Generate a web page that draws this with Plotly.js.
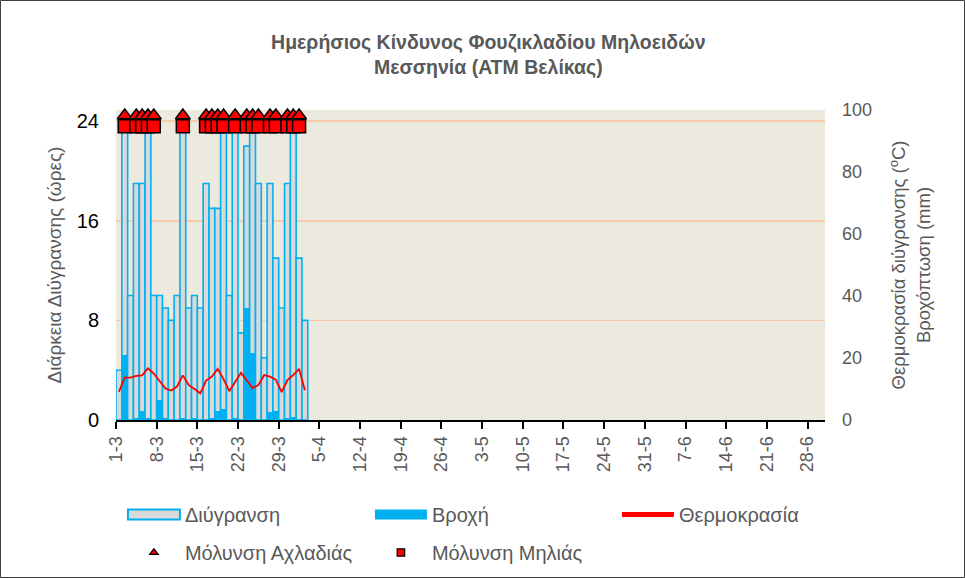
<!DOCTYPE html>
<html>
<head>
<meta charset="utf-8">
<script src="https://cdn.plot.ly/plotly-3.0.1.min.js"></script>
<style>html,body{margin:0;padding:0;background:#fff;}#chart{width:965px;height:578px;}</style>
</head>
<body>
<div id="chart"></div>
<script>
// ---- data ----
const dates = ['2023-03-01','2023-03-02','2023-03-03','2023-03-04','2023-03-05','2023-03-06','2023-03-07','2023-03-08','2023-03-09','2023-03-10','2023-03-11','2023-03-12','2023-03-13','2023-03-14','2023-03-15','2023-03-16','2023-03-17','2023-03-18','2023-03-19','2023-03-20','2023-03-21','2023-03-22','2023-03-23','2023-03-24','2023-03-25','2023-03-26','2023-03-27','2023-03-28','2023-03-29','2023-03-30','2023-03-31','2023-04-01','2023-04-02'];
const wetnessHours = [4,24,10,19,19,24,10,10,9,8,10,24,9,10,9,19,17,17,24,10,24,7,22,24,19,5,19,13,9,19,24,13,8];
const rainMm = [0,21,0,0.5,3,0.5,0,6.5,0.5,0,0,0.5,0,0.5,0,0,0.5,3,3.5,0,0.5,0,36,21.5,0,0,2.5,3,0,0.5,1,0,0];
const wetTempC = [9.1,13.7,13.7,14.2,14.4,16.7,15,12.4,10.2,9.5,10.8,14.4,11.3,10,8.6,12.7,14,16.5,13.2,9.3,12.4,15.2,12.8,10.3,11.3,14.5,14,13,9,12.9,14.5,16.5,9.6];
const pearInfectionDates = ['2023-03-02','2023-03-04','2023-03-05','2023-03-06','2023-03-07','2023-03-12','2023-03-16','2023-03-17','2023-03-18','2023-03-19','2023-03-21','2023-03-23','2023-03-24','2023-03-25','2023-03-27','2023-03-28','2023-03-30','2023-03-31','2023-04-01'];
const appleInfectionDates = ['2023-03-02','2023-03-04','2023-03-05','2023-03-06','2023-03-07','2023-03-12','2023-03-16','2023-03-17','2023-03-18','2023-03-19','2023-03-21','2023-03-23','2023-03-24','2023-03-25','2023-03-27','2023-03-28','2023-03-30','2023-03-31','2023-04-01'];
const pearMarkerLevel = 24.45;
const appleMarkerLevel = 23.6;
const xStart = '2023-03-01';
const xEnd = '2023-07-01';
const seriesNames = ['Διύγρανση','Βροχή','Θερμοκρασία','Μόλυνση Αχλαδιάς','Μόλυνση Μηλιάς'];

const DAY = 86400000;
const FONT = 'Liberation Sans, Arial, sans-serif';
const GREY = '#595959';

const traces = [
  {type:'bar', name:seriesNames[0], x:dates, y:wetnessHours, xperiod:DAY, xperiodalignment:'middle', width:DAY,
   marker:{color:'#D9D9D9', line:{color:'#00B0F0', width:1.6}}, yaxis:'y', legend:'legend'},
  {type:'bar', name:seriesNames[1], x:dates, y:rainMm, xperiod:DAY, xperiodalignment:'middle', width:DAY,
   marker:{color:'#00B0F0', line:{width:0}}, yaxis:'y2', legend:'legend'},
  {type:'scatter', mode:'lines', name:seriesNames[2], x:dates, y:wetTempC, xperiod:DAY, xperiodalignment:'middle',
   line:{color:'#FF0000', width:1.8}, yaxis:'y2', legend:'legend'},
  {type:'scatter', mode:'markers', name:seriesNames[3], x:pearInfectionDates, y:pearInfectionDates.map(()=>pearMarkerLevel),
   xperiod:DAY, xperiodalignment:'middle', cliponaxis:false,
   marker:{symbol:'triangle-up', size:13, color:'#FF0000', line:{color:'#000', width:1.5}}, yaxis:'y', legend:'legend2'},
  {type:'scatter', mode:'markers', name:seriesNames[4], x:appleInfectionDates, y:appleInfectionDates.map(()=>appleMarkerLevel),
   xperiod:DAY, xperiodalignment:'middle', cliponaxis:false,
   marker:{symbol:'square', size:13, color:'#FF0000', line:{color:'#000', width:1.5}}, yaxis:'y', legend:'legend2'}
];

const W = 965, H = 578, L = 116, R = 140, T = 110, B = 158;
const pw = W - L - R, ph = H - T - B;

const legendCommon = {orientation:'h', x:-0.0001, xanchor:'left', yanchor:'top', borderwidth:7, bordercolor:'rgba(0,0,0,0)',
  bgcolor:'rgba(0,0,0,0)', itemwidth:52, entrywidth:180, font:{family:FONT, size:20, color:GREY}, itemsizing:'constant'};

const layout = {
  width:W, height:H,
  margin:{l:L, r:R, t:T, b:B, autoexpand:false},
  paper_bgcolor:'#FFFFFF', plot_bgcolor:'#ECE9DF',
  font:{family:FONT, color:GREY},
  title:{text:'Ημερήσιος Κίνδυνος Φουζικλαδίου Μηλοειδών<br>Μεσσηνία (ΑΤΜ Βελίκας)', x:0.506, xref:'container', xanchor:'center',
         y:1-49/H, yref:'container', yanchor:'middle', font:{family:FONT, size:19.5, weight:'bold', color:GREY}},
  barmode:'overlay', bargap:0,
  showlegend:true,
  xaxis:{type:'date', range:[xStart, xEnd], tick0:xStart, dtick:7*DAY, tickformat:'%-d-%-m', tickangle:-90,
         ticks:'outside', ticklen:7, tickwidth:2, tickcolor:'#000', showline:true, linecolor:'#000', linewidth:2,
         showgrid:false, zeroline:false, tickfont:{family:FONT, size:18, color:GREY}, fixedrange:true},
  yaxis:{range:[0,24.9], tick0:0, dtick:8, showgrid:true, gridcolor:'#F8CBA8', gridwidth:1.5, zeroline:false,
         showline:false, ticks:'', ticklabelstandoff:16, tickfont:{family:FONT, size:20, color:'#000'},
         title:{text:'Διάρκεια Διύγρανσης (ώρες)', font:{family:FONT, size:19, color:GREY}, standoff:10}},
  yaxis2:{range:[0,100], dtick:20, overlaying:'y', side:'right', showgrid:false, zeroline:false, showline:false, ticks:'',
          ticklabelstandoff:16, tickfont:{family:FONT, size:18, color:GREY},
          title:{text:'Θερμοκρασία διύγρανσης (<sup>o</sup>C)<br>Βροχόπτωση (mm)', font:{family:FONT, size:18.5, color:GREY}, standoff:21}},
  legend:Object.assign({}, legendCommon, {y:(T+ph-488)/ph}),
  legend2:Object.assign({}, legendCommon, {y:(T+ph-526)/ph}),
  shapes:[{type:'rect', xref:'paper', yref:'paper', x0:(0.5-L)/pw, x1:(W-0.5-L)/pw, y0:(T+ph-(H-0.5))/ph, y1:(T+ph-0.5)/ph,
           line:{color:'#404040', width:1}, fillcolor:'rgba(0,0,0,0)', layer:'below'}]
};

Plotly.newPlot('chart', traces, layout, {displayModeBar:false, staticPlot:true}).then(function(gd){
  // widen the bar legend swatches (first legend only) to the reference's long rectangles
  gd.querySelectorAll('g.legend g.legendpoints path').forEach(function(p){
    var d = (p.getAttribute('d') || '').replace(/\s+/g,'');
    if (/^M6,6H-6V-6H6Z$/.test(d)) p.setAttribute('d','M26,5H-26V-5H26Z');
  });
  // smaller legend markers for the infection symbols
  gd.querySelectorAll('g.legend2 g.legendpoints path.scatterpts').forEach(function(p){
    var t = p.getAttribute('transform') || '';
    p.setAttribute('transform', t + ' scale(0.62)');
  });
});
</script>
</body>
</html>
